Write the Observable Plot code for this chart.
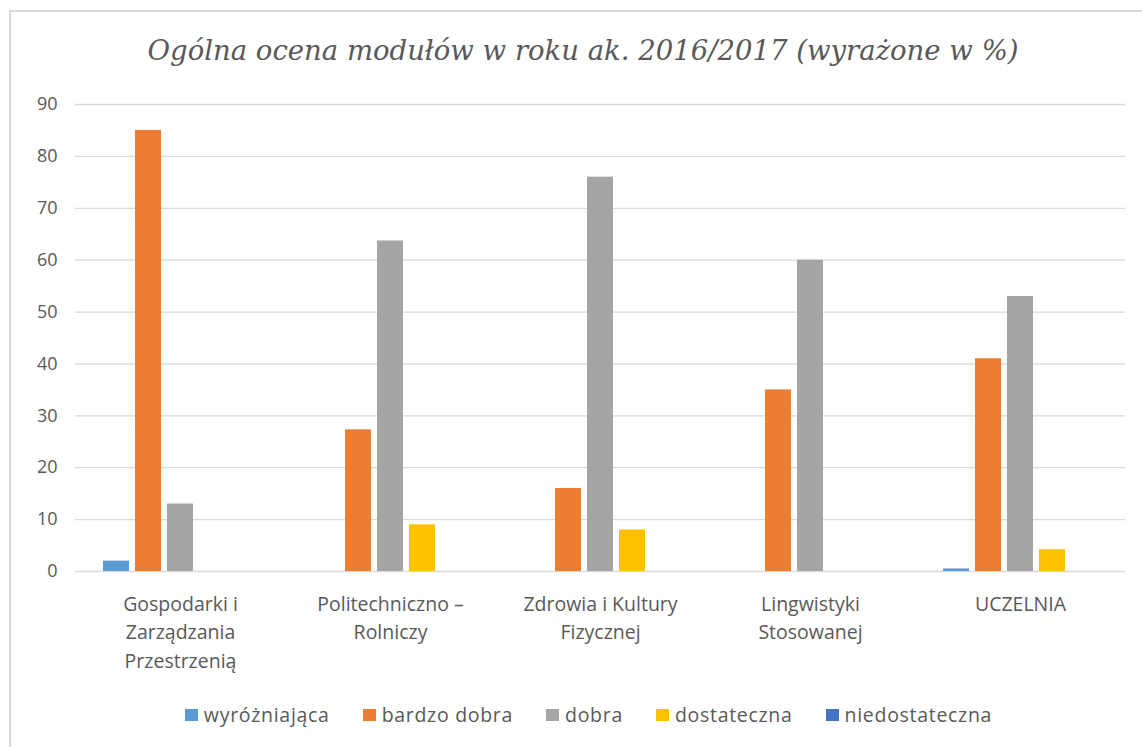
<!DOCTYPE html>
<html>
<head>
<meta charset="utf-8">
<script src="https://cdn.jsdelivr.net/npm/d3@7"></script>
<script src="https://cdn.jsdelivr.net/npm/@observablehq/plot@0.6"></script>
<style>
  html, body { margin: 0; padding: 0; background: #fff; }
  body { width: 1142px; height: 747px; position: relative; overflow: hidden; font-family: "Open Sans", sans-serif; }
  #frame { position: absolute; left: 9px; top: 10px; width: 1200px; height: 800px; border: 2px solid #d9d9d9; box-sizing: border-box; }
  #title { position: absolute; left: 0; top: 32px; width: 1166px; text-align: center; font-family: "DejaVu Serif", serif; font-style: italic; font-size: 27.5px; line-height: 36px; color: #595959; white-space: nowrap; }
  #chart { position: absolute; left: 0; top: 80px; }
  #legend { position: absolute; left: 0; top: 700px; width: 1177px; display: flex; justify-content: center; gap: 33px; font-size: 19.5px; letter-spacing: 0.7px; line-height: 30px; color: #595959; }
  #legend .item { display: flex; align-items: center; }
  #legend .sw { width: 13px; height: 12px; margin-right: 6px; }
</style>
</head>
<body>
<div id="frame"></div>
<div id="title">Ogólna ocena modułów w roku ak. 2016/2017 (wyrażone w %)</div>
<div id="chart"></div>
<div id="legend"></div>
<script>
const categories = ["Gospodarki i Zarządzania Przestrzenią", "Politechniczno – Rolniczy", "Zdrowia i Kultury Fizycznej", "Lingwistyki Stosowanej", "UCZELNIA"];
const categoryLabels = ["Gospodarki i\nZarządzania\nPrzestrzenią", "Politechniczno –\nRolniczy", "Zdrowia i Kultury\nFizycznej", "Lingwistyki\nStosowanej", "UCZELNIA"];
const series = ["wyróżniająca", "bardzo dobra", "dobra", "dostateczna", "niedostateczna"];
const colors = ["#5B9BD5", "#ED7D31", "#A5A5A5", "#FFC000", "#4472C4"];
const wyrozniajaca = [2, 0, 0, 0, 0.5];
const bardzoDobra = [85, 27.3, 16, 35, 41];
const dobra = [13, 63.7, 76, 60, 53];
const dostateczna = [0, 9, 8, 0, 4.2];
const niedostateczna = [0, 0, 0, 0, 0];
const yTicks = [0, 10, 20, 30, 40, 50, 60, 70, 80, 90];

const seriesValues = [wyrozniajaca, bardzoDobra, dobra, dostateczna, niedostateczna];
const data = [];
categories.forEach((c, i) => {
  series.forEach((s, j) => {
    data.push({category: c, series: s, value: seriesValues[j][i]});
  });
});

const plot = Plot.plot({
  width: 1142,
  height: 610,
  marginLeft: 73,
  marginRight: 15,
  marginTop: 24,
  marginBottom: 119,
  style: {fontFamily: "Open Sans, sans-serif", fontSize: "18px", color: "#595959", background: "transparent", overflow: "visible"},
  fx: {domain: categories, padding: 0, label: null},
  x: {domain: series, paddingInner: 0.2, paddingOuter: 0.86, axis: null},
  y: {domain: [0, 90], label: null},
  color: {domain: series, range: colors},
  marks: [
    Plot.gridY(yTicks, {stroke: "#d9d9d9", strokeOpacity: 1, strokeWidth: 1.3}),
    Plot.axisY(yTicks, {tickSize: 0, tickPadding: 18, fontSize: 18, fill: "#595959", label: null}),
    Plot.axisFx({anchor: "bottom", tickSize: 0, tickPadding: 19, fontSize: 19.5, fill: "#595959", lineHeight: 1.46, label: null,
      tickFormat: d => categoryLabels[categories.indexOf(d)]}),
    Plot.barY(data.filter(d => d.value > 0), {fx: "category", x: "series", y: "value", fill: "series"})
  ]
});
document.getElementById("chart").appendChild(plot);

const legend = document.getElementById("legend");
series.forEach((s, j) => {
  const item = document.createElement("div");
  item.className = "item";
  const sw = document.createElement("span");
  sw.className = "sw";
  sw.style.background = colors[j];
  const t = document.createElement("span");
  t.textContent = s;
  item.appendChild(sw);
  item.appendChild(t);
  legend.appendChild(item);
});
</script>
</body>
</html>
